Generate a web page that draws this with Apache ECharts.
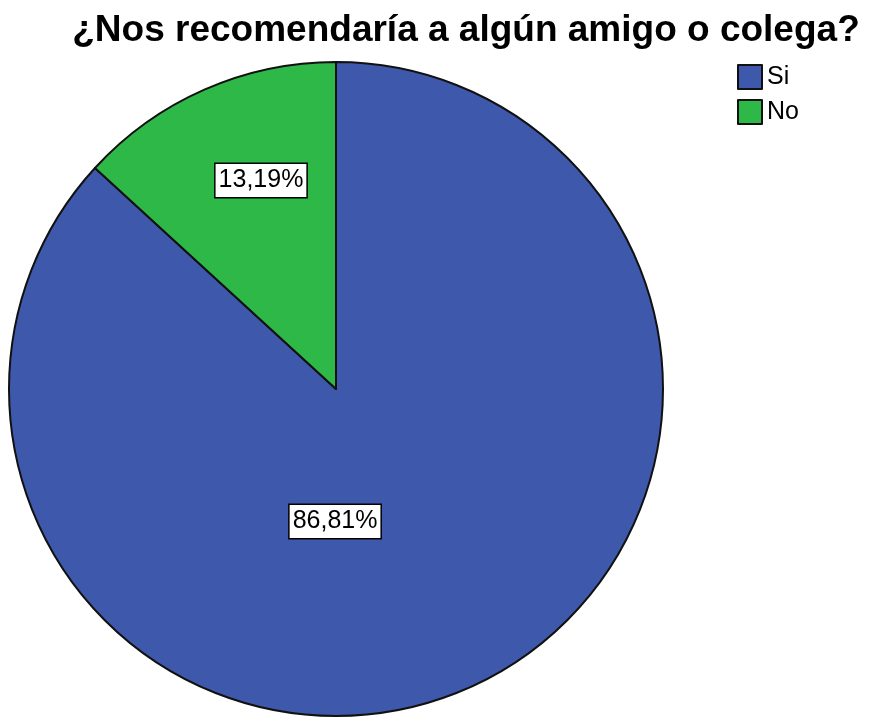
<!DOCTYPE html>
<html>
<head>
<meta charset="utf-8">
<script src="https://cdn.jsdelivr.net/npm/echarts@6/dist/echarts.min.js"></script>
<style>
  html, body { margin: 0; padding: 0; background: #ffffff; }
  #chart { width: 876px; height: 721px; }
</style>
</head>
<body>
<div id="chart"></div>
<script>
// Survey answers: would the respondent recommend us?
const categories = ['Si', 'No'];
const percentages = [86.81, 13.19];
const sliceColors = ['#3e58ac', '#2eb848'];
// Label nudges (px) so the value boxes sit where the report places them
const labelShift = [[-68, -20], [-8, -56]];

const chart = echarts.init(document.getElementById('chart'));

chart.setOption({
  backgroundColor: '#ffffff',
  animation: false,
  title: {
    text: '¿Nos recomendaría a algún amigo o colega?',
    left: 461,
    top: 7,
    textAlign: 'center',
    textStyle: {
      fontFamily: 'Liberation Sans, Arial, sans-serif',
      fontWeight: 'bold',
      fontSize: 37,
      color: '#000000'
    }
  },
  legend: {
    orient: 'vertical',
    left: 737,
    top: 64,
    padding: 0,
    itemWidth: 24,
    itemHeight: 24,
    itemGap: 9,
    icon: 'rect',
    textStyle: {
      fontFamily: 'Liberation Sans, Arial, sans-serif',
      fontSize: 25,
      color: '#000000'
    },
    data: categories
  },
  series: [{
    type: 'pie',
    center: [336, 389],
    radius: 327,
    startAngle: 90,
    clockwise: true,
    avoidLabelOverlap: false,
    itemStyle: {
      borderColor: '#111111',
      borderWidth: 2
    },
    label: {
      show: true,
      position: 'inside',
      formatter: p => p.value.toFixed(2).replace('.', ',') + '%',
      fontFamily: 'Liberation Sans, Arial, sans-serif',
      fontSize: 25,
      color: '#000000',
      backgroundColor: '#ffffff',
      borderColor: '#000000',
      borderWidth: 1.5,
      padding: [5, 3, 3, 3]
    },
    labelLine: { show: false },
    labelLayout: p => ({ dx: labelShift[p.dataIndex][0], dy: labelShift[p.dataIndex][1] }),
    emphasis: { disabled: true },
    data: categories.map((name, i) => ({
      name: name,
      value: percentages[i],
      itemStyle: { color: sliceColors[i] }
    }))
  }]
});
</script>
</body>
</html>
